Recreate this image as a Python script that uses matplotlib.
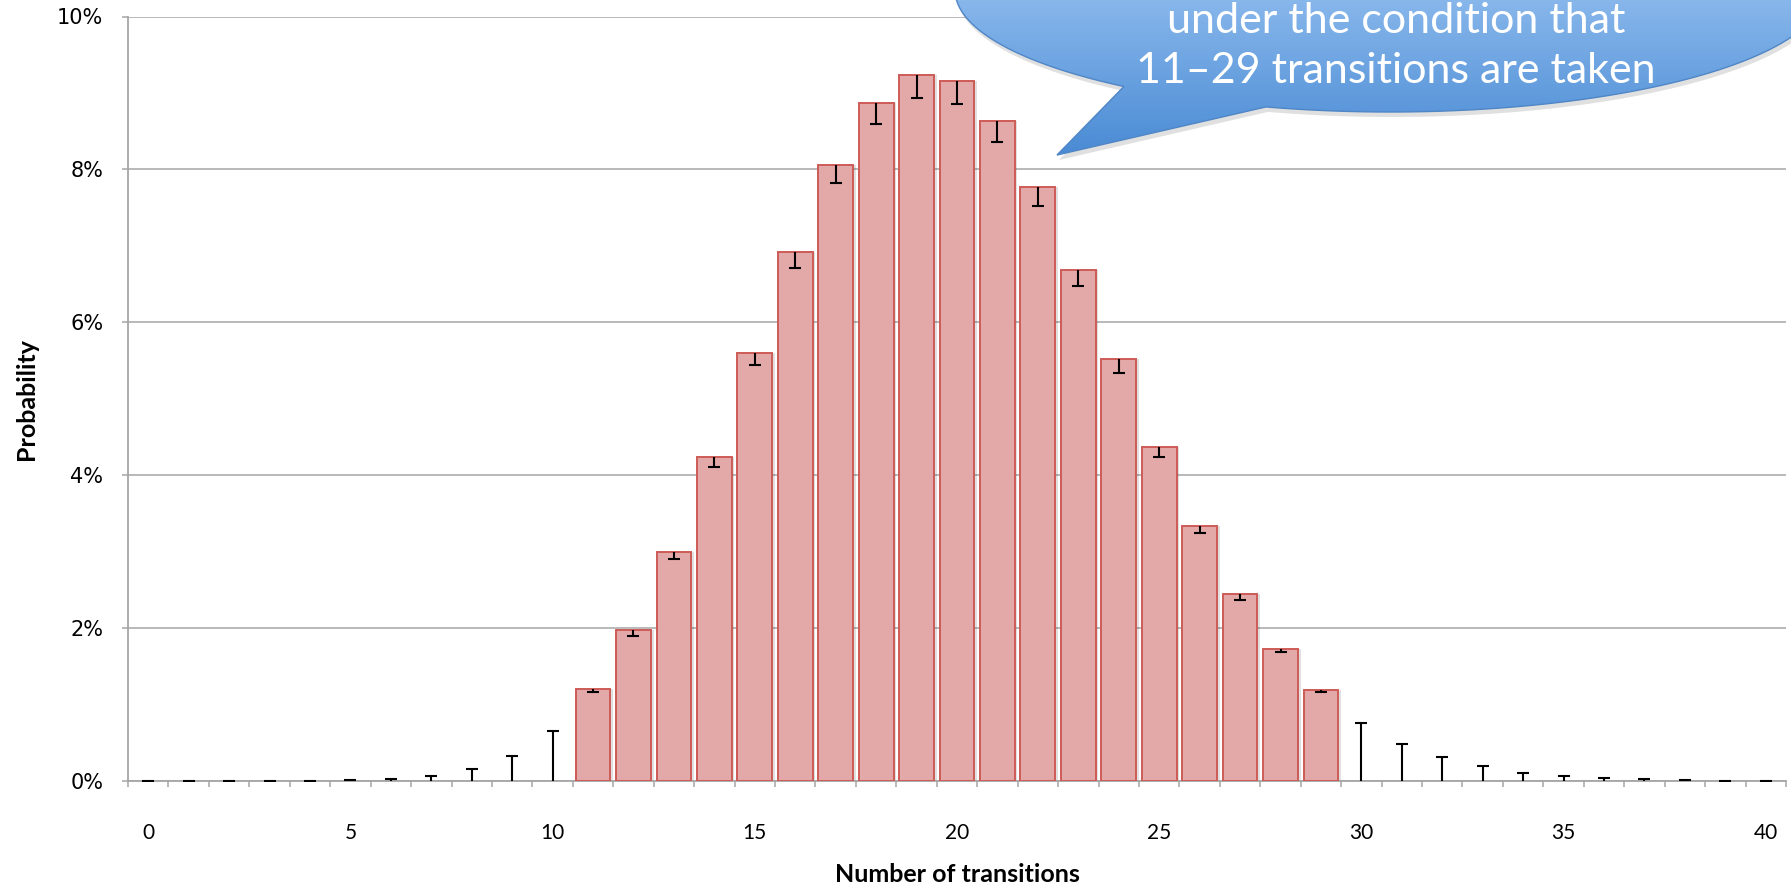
import numpy as np
from matplotlib import pyplot as plt
from matplotlib.path import Path
from matplotlib.patches import PathPatch
from matplotlib.colors import LinearSegmentedColormap
from matplotlib.ticker import FixedLocator, PercentFormatter

# number of transitions on the x axis
transitions = np.arange(0, 41)

# probability (in %) for the conditioned range 11..29, with the lower error
cond_x = np.arange(11, 30)
cond_prob = [1.20, 1.97, 3.00, 4.24, 5.60, 6.92, 8.06, 8.87, 9.24, 9.15,
             8.63, 7.77, 6.69, 5.52, 4.37, 3.33, 2.44, 1.73, 1.19]
cond_err = [0.04, 0.07, 0.10, 0.13, 0.16, 0.21, 0.24, 0.28, 0.30, 0.29,
            0.27, 0.25, 0.21, 0.18, 0.13, 0.09, 0.07, 0.04, 0.03]

# tails outside the condition: only the upper error is drawn
left_x = np.arange(0, 11)
left_err = [0.003, 0.003, 0.003, 0.003, 0.004, 0.008, 0.03, 0.07, 0.16, 0.33, 0.65]
right_x = np.arange(30, 41)
right_err = [0.76, 0.49, 0.31, 0.19, 0.11, 0.07, 0.04, 0.02, 0.01, 0.005, 0.003]

xtick_labels = ['0', '5', '10', '15', '20', '25', '30', '35', '40']

W, H = 1791, 886
fig = plt.figure(figsize=(W / 100, H / 100), dpi=100)
ax = fig.add_axes([128 / W, 1 - 781 / H, (1786 - 128) / W, (781 - 16.5) / H])

grid_col = '#a6a6a6'
ax.set_xlim(-0.5, 40.5)
ax.set_ylim(0, 10)
ax.set_yticks([0, 2, 4, 6, 8, 10])
ax.yaxis.set_major_formatter(PercentFormatter(decimals=0))
ax.grid(axis='y', color=grid_col, linewidth=1.1, zorder=0)
ax.set_axisbelow(True)
for s in ['top', 'right']:
    ax.spines[s].set_visible(False)
for s in ['left', 'bottom']:
    ax.spines[s].set_color(grid_col)
    ax.spines[s].set_linewidth(1.3)

# bars with a faint shadow
ax.bar(cond_x + 0.03, cond_prob, width=0.93, color='#000000', alpha=0.12,
       linewidth=0, zorder=2)
ax.bar(cond_x, cond_prob, width=0.86, color='#e2a9a8', edgecolor='#cd5b57',
       linewidth=1.4, zorder=3)

# error bars: downward inside the bars, upward in the tails
cap = dict(marker='_', markersize=8.6, markeredgewidth=1.5, color='black',
           linestyle='none', zorder=5)
cond_low = np.array(cond_prob) - np.array(cond_err)
ax.vlines(cond_x, cond_low, cond_prob, color='black', linewidth=1.5, zorder=5)
ax.plot(cond_x, cond_low, **cap)
tail_x = np.concatenate([left_x, right_x])
tail_err = np.concatenate([left_err, right_err])
ax.vlines(tail_x, 0, tail_err, color='black', linewidth=1.5, zorder=5)
ax.plot(tail_x, tail_err, **cap)

# category axis style ticks
ax.xaxis.set_major_locator(FixedLocator(np.arange(0, 41, 5)))
ax.set_xticklabels(xtick_labels)
ax.xaxis.set_minor_locator(FixedLocator(np.arange(-0.5, 41, 1)))
ax.tick_params(axis='x', which='major', length=0, pad=30, labelsize=15)
ax.tick_params(axis='x', which='minor', length=4.3, width=1.1, color=grid_col,
               direction='out')
ax.tick_params(axis='y', length=4.3, width=1.1, color=grid_col, pad=13.5,
               labelsize=15)
for lb in ax.get_xticklabels():
    lb.set_family('Lato')

ax.set_xlabel('Number of transitions', fontsize=18, fontweight='bold',
              family='Lato', va='center')
ax.xaxis.set_label_coords(0.5, (781 - 874) / (781 - 16.5))
ax.set_ylabel('Probability', fontsize=18, fontweight='bold', family='Lato',
              va='center')
ax.yaxis.set_label_coords((26 - 128) / (1786 - 128), 0.5)

# speech bubble callout in pixel coordinates
ov = fig.add_axes([0, 0, 1, 1], zorder=10)
ov.set_xlim(0, W)
ov.set_ylim(H, 0)
ov.axis('off')
ov.patch.set_alpha(0)

cx, cy, a, b = 1390, -10, 435, 122
t1, t2 = 2.229, 1.860
th = np.linspace(t1, t2 + 2 * np.pi, 300)
pts = np.column_stack([cx + a * np.cos(th), cy + b * np.sin(th)])
tip = np.array([[1057, 155]])
verts = np.vstack([tip, pts, tip])
codes = [Path.MOVETO] + [Path.LINETO] * (len(verts) - 2) + [Path.CLOSEPOLY]
bubble = Path(verts, codes)

shadow = PathPatch(Path(verts + np.array([2, 5]), codes), facecolor='#000000',
                   alpha=0.12, linewidth=0)
ov.add_patch(shadow)
clip = PathPatch(bubble, facecolor='none', edgecolor='none')
ov.add_patch(clip)
cmap = LinearSegmentedColormap.from_list('bub', ['#bcdcff', '#4a8bd4'])
grad = np.linspace(0, 1, 256).reshape(-1, 1)
im = ov.imshow(grad, cmap=cmap, aspect='auto', origin='upper',
               extent=(900, 1830, 155, -132), zorder=2)
im.set_clip_path(clip)
ov.add_patch(PathPatch(bubble, facecolor='none', edgecolor='#4f86c6',
                       linewidth=1.0, zorder=3))
ov.text(1396, 21, 'under the condition that', ha='center', va='center',
        fontsize=31, color='white', family='Lato', zorder=4)
ov.text(1396, 71, '11\u201329 transitions are taken', ha='center', va='center',
        fontsize=31, color='white', family='Lato', zorder=4)

fig.savefig('out.png', dpi=100)
